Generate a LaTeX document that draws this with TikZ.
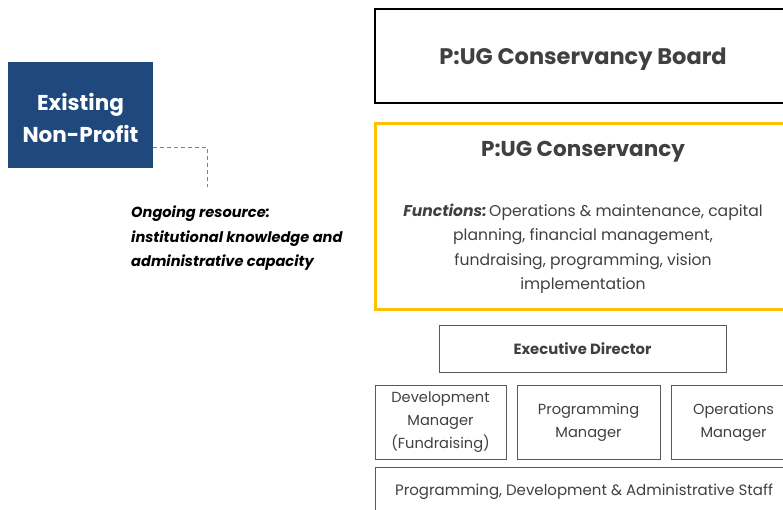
\documentclass[tikz,border=0pt]{standalone}
\usepackage{fontspec}
\setmainfont{Poppins}
\definecolor{navy}{HTML}{1F497D}
\definecolor{gold}{HTML}{FFC000}
\definecolor{txt}{HTML}{404040}
\definecolor{edge}{HTML}{595959}
\begin{document}
\begin{tikzpicture}[x=1pt,y=-1pt,
  box/.style={draw=edge,line width=0.8pt,inner sep=0pt,text=txt,align=center},
  lbl/.style={inner sep=0pt,text=txt,align=center}]
\useasboundingbox (0,0) rectangle (783,510);
\clip (0,0) rectangle (783,510);
% existing non-profit
\node[fill=navy,minimum width=145pt,minimum height=106pt,inner sep=0pt] (enp) at (80.5,115) {};
\node[lbl,text=white,font=\fontsize{21.5}{32}\selectfont\bfseries] (enpt) at (80.5,117.5) {Existing\\Non-Profit};
\coordinate (dend) at (207,187);
\draw[gray,line width=0.9pt,dash pattern=on 4pt off 3pt] ([yshift=21pt]enp.south east) -| (dend);
\node[anchor=north west,inner sep=0pt,align=left,font=\fontsize{14.6}{24.5}\selectfont\bfseries\itshape] (ong) at (131,206)
  {Ongoing resource:\\institutional knowledge and\\administrative capacity};
% board
\node[draw=black,line width=2pt,minimum width=416pt,minimum height=94pt,inner sep=0pt] (board) at (583,56) {};
\node[lbl,font=\fontsize{22.5}{26}\selectfont\bfseries] (boardt) at (583,59.5) {P:UG Conservancy Board};
% conservancy
\node[draw=gold,line width=3pt,minimum width=416pt,minimum height=185pt,inner sep=0pt] (cons) at (583,216.5) {};
\node[lbl,font=\fontsize{21.5}{26}\selectfont\bfseries] (ctitle) at (583,151.5) {P:UG Conservancy};
\node[lbl,font=\fontsize{15.6}{24.5}\selectfont] (cfun) at (583,249)
  {\textbf{\textit{Functions:}}\hspace{-0.2em} Operations \& maintenance, capital\\planning, financial management,\\fundraising, programming, vision\\implementation};
% executive director
\node[box,minimum width=287pt,minimum height=47pt,font=\fontsize{14.8}{17}\selectfont\bfseries] (ed) at (582.5,348.5) {Executive Director};
% managers
\node[box,minimum width=131pt,minimum height=74pt,font=\fontsize{14.6}{23}\selectfont] (dev) at (440.5,422) {Development\\Manager\\(Fundraising)};
\node[box,minimum width=143pt,minimum height=74pt,font=\fontsize{14.6}{23}\selectfont] (prog) at (588.5,422) {Programming\\Manager};
\node[box,minimum width=125pt,minimum height=74pt,font=\fontsize{14.6}{23}\selectfont] (ops) at (733.5,422) {Operations\\Manager};
% staff
\node[box,minimum width=418pt,minimum height=50pt,font=\fontsize{15}{23}\selectfont] (staff) at (584,492) {Programming, Development \& Administrative Staff};
\end{tikzpicture}
\end{document}
